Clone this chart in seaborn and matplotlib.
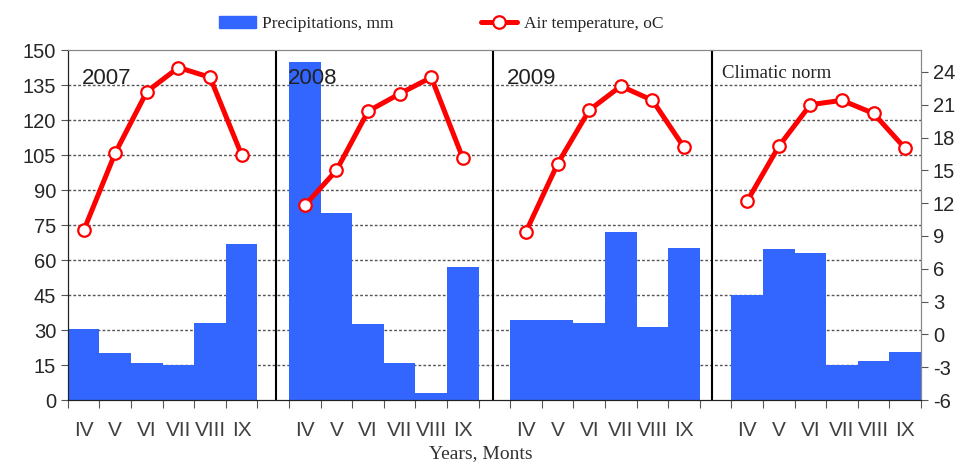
import pandas as pd
import seaborn as sns
import matplotlib.pyplot as plt
from matplotlib.patches import Patch
from matplotlib.lines import Line2D

# Data
months = ['IV', 'V', 'VI', 'VII', 'VIII', 'IX']
panels = ['2007', '2008', '2009', 'Climatic norm']

precip_2007 = [30.5, 20, 16, 15, 33, 67]
precip_2008 = [145, 80, 32.6, 16, 3, 57]
precip_2009 = [34.5, 34.5, 33.2, 72, 31.3, 65]
precip_norm = [45, 64.7, 63, 15, 16.7, 20.7]

temp_2007 = [9.5, 16.6, 22.2, 24.4, 23.5, 16.4]
temp_2008 = [11.8, 15.0, 20.4, 22.0, 23.5, 16.1]
temp_2009 = [9.4, 15.6, 20.5, 22.7, 21.4, 17.1]
temp_norm = [12.2, 17.2, 21.0, 21.4, 20.2, 17.0]

precip = [precip_2007, precip_2008, precip_2009, precip_norm]
temps = [temp_2007, temp_2008, temp_2009, temp_norm]

BLUE = '#3366ff'
RED = '#ff0000'

# one slot per month, plus an empty slot between panels
rows = []
for p, name in enumerate(panels):
    for m, mon in enumerate(months):
        rows.append({'panel': name, 'month': mon, 'pos': 7 * p + m + 0.5,
                     'precip': precip[p][m], 'temp': temps[p][m]})
df = pd.DataFrame(rows)

sns.set_style('ticks')
plt.rcParams['font.family'] = ['Liberation Sans', 'DejaVu Sans']
plt.rcParams['axes.unicode_minus'] = False

fig = plt.figure(figsize=(9.7, 4.66), dpi=100)
ax = fig.add_axes([0.070, 0.1416, 0.8795, 0.7511])

sns.barplot(data=df, x='pos', y='precip', native_scale=True, width=1,
            color=BLUE, saturation=1, errorbar=None, linewidth=0, ax=ax, zorder=2)

# dashed grid behind bars
for v in range(15, 136, 15):
    ax.axhline(v, color='#555555', lw=1.0, ls=(0, (2, 1.5)), zorder=0.5)

# panel dividers
for xd in [6.6, 13.45, 20.4]:
    ax.axvline(xd, color='black', lw=1.5, zorder=3)

ax.set_ylim(0, 150)
ax.set_yticks(range(0, 151, 15))
ax.set_xlabel('')
ax.set_ylabel('')

bounds = [7 * p + k for p in range(4) for k in range(7)]
centers = df['pos'].tolist()
ax.set_xticks(bounds)
ax.set_xticklabels([])
ax.set_xticks(centers, minor=True)
ax.set_xticklabels(df['month'].tolist(), minor=True)
ax.tick_params(axis='x', which='major', length=6, color='#555555')
ax.tick_params(axis='x', which='minor', length=0, pad=15, labelsize=15, labelcolor='#404040')
ax.tick_params(axis='y', length=5, labelsize=14.5, color='#555555')

ax2 = ax.twinx()
sns.lineplot(data=df, x='pos', y='temp', units='panel', estimator=None,
             color=RED, lw=3.6, marker='o', markersize=9, markerfacecolor='white',
             markeredgecolor=RED, markeredgewidth=1.6, legend=False, ax=ax2)
ax2.set_ylim(-6, 26)
ax2.set_yticks(range(-6, 25, 3))
ax2.set_ylabel('')
ax2.tick_params(axis='y', length=5, labelsize=14.5, color='#555555')
ax.set_xlim(0, 27)

for a in (ax, ax2):
    a.spines['top'].set_color('#888888')
    a.spines['right'].set_color('#888888')
    a.spines['left'].set_color('#222222')
    a.spines['bottom'].set_color('#222222')

# panel titles
title_x = [0.44, 6.96, 13.9, 20.7]
for name, tx in zip(panels, title_x):
    if name == 'Climatic norm':
        ax.text(tx, 140, name, ha='left', va='center', fontsize=13.5,
                family='Liberation Serif', color='#222222', zorder=4)
    else:
        ax.text(tx, 138, name, ha='left', va='center', fontsize=16,
                color='#222222', zorder=4)

handles = [Patch(color=BLUE),
           Line2D([0], [0], color=RED, lw=3.6, marker='o', markersize=9,
                  markerfacecolor='white', markeredgecolor=RED, markeredgewidth=1.6)]
fig.legend(handles, ['Precipitations, mm', 'Air temperature, oC'],
           loc='upper center', bbox_to_anchor=(0.455, 1.0), ncol=2, frameon=False,
           prop={'family': 'Liberation Serif', 'size': 12.5},
           columnspacing=5.0, handlelength=2.1, handletextpad=0.4)

fig.text(0.496, 0.008, 'Years, Monts', ha='center', va='bottom',
         family='Liberation Serif', fontsize=14, color='#333333')

fig.savefig('out.png', dpi=100)
